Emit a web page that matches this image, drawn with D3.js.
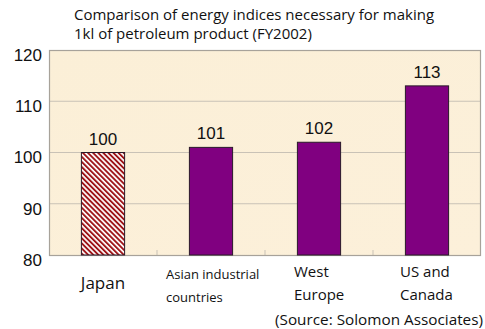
<!DOCTYPE html>
<html>
<head>
<meta charset="utf-8">
<script src="https://cdn.jsdelivr.net/npm/d3@7"></script>
<style>
  html, body { margin: 0; padding: 0; background: #ffffff; }
  svg { display: block; }
</style>
</head>
<body>
<svg id="chart" width="485" height="329"></svg>
<script>
// Energy index per 1kl of petroleum product, FY2002 (Japan = 100)
const categories = ["Japan", "Asian industrial countries", "West Europe", "US and Canada"];
const categoryLines = [["Japan"], ["Asian industrial", "countries"], ["West", "Europe"], ["US and", "Canada"]];
const values = [100, 101, 102, 113];
const yTicks = [80, 90, 100, 110, 120];
const titleLines = ["Comparison of energy indices necessary for making", "1kl of petroleum product (FY2002)"];
const sourceNote = "(Source: Solomon Associates)";

const svg = d3.select("#chart");
const plot = { left: 49, right: 481, top: 50, bottom: 255 };

const x = d3.scaleBand().domain(categories).range([plot.left, plot.right]).paddingInner(0.6).paddingOuter(0.3);
const xOuter = d3.scaleBand().domain(categories).range([plot.left, plot.right]);
const y = d3.scaleLinear().domain([80, 120]).range([plot.bottom, plot.top]);

// Hatched fill for the reference bar (stripes running top-left to bottom-right)
const defs = svg.append("defs");
const pat = defs.append("pattern")
  .attr("id", "hatch").attr("patternUnits", "userSpaceOnUse")
  .attr("width", 3.6).attr("height", 3.6)
  .attr("patternTransform", "rotate(-45)");
pat.append("rect").attr("width", 3.6).attr("height", 3.6).attr("fill", "#ffffff");
pat.append("rect").attr("x", 0).attr("width", 1.9).attr("height", 3.6).attr("fill", "#9e1418");

const bg = defs.append("linearGradient").attr("id", "paper").attr("x1", 0).attr("y1", 0).attr("x2", 1).attr("y2", 1);
bg.append("stop").attr("offset", "0%").attr("stop-color", "#fbefd7");
bg.append("stop").attr("offset", "100%").attr("stop-color", "#fcf0da");

// Plot background
svg.append("rect")
  .attr("x", plot.left).attr("y", plot.top)
  .attr("width", plot.right - plot.left).attr("height", plot.bottom - plot.top)
  .attr("fill", "url(#paper)");

// Horizontal gridlines
svg.append("g").selectAll("line").data(yTicks.slice(1, -1)).join("line")
  .attr("x1", plot.left).attr("x2", plot.right)
  .attr("y1", d => y(d)).attr("y2", d => y(d))
  .attr("stroke", "#c9c2b6").attr("stroke-width", 1);

// Small category separators along the base
svg.append("g").selectAll("line").data(categories.slice(1)).join("line")
  .attr("x1", d => xOuter(d)).attr("x2", d => xOuter(d))
  .attr("y1", plot.bottom).attr("y2", plot.bottom - 5)
  .attr("stroke", "#c9c2b6").attr("stroke-width", 1);

// Plot frame
svg.append("rect")
  .attr("x", plot.left + 0.5).attr("y", plot.top + 0.5)
  .attr("width", plot.right - plot.left - 1).attr("height", plot.bottom - plot.top)
  .attr("fill", "none").attr("stroke", "#a7a29a").attr("stroke-width", 1.2);

// Bars
svg.append("g").selectAll("rect").data(values).join("rect")
  .attr("x", (d, i) => x(categories[i]))
  .attr("y", d => y(d))
  .attr("width", x.bandwidth())
  .attr("height", d => y(80) - y(d))
  .attr("fill", (d, i) => i === 0 ? "url(#hatch)" : "#800080")
  .attr("stroke", "#2a1a2a").attr("stroke-width", 1);

// Value labels
svg.append("g").selectAll("text").data(values).join("text")
  .attr("x", (d, i) => x(categories[i]) + x.bandwidth() / 2)
  .attr("y", d => y(d) - 8)
  .attr("text-anchor", "middle")
  .attr("font-family", "Liberation Sans, Arial, sans-serif")
  .attr("font-size", 17).attr("fill", "#111")
  .text(d => d);

// Y axis labels
const yAxis = d3.axisLeft(y).tickValues(yTicks).tickSize(0).tickPadding(7);
const yg = svg.append("g").attr("transform", `translate(${plot.left},5)`).call(yAxis);
yg.select(".domain").remove();
yg.selectAll("text")
  .attr("font-family", "Liberation Sans, Arial, sans-serif")
  .attr("font-size", 17).attr("fill", "#111");

// Category labels
const catFont = "Open Sans, sans-serif";
const catStyle = [
  { size: 17, dx: 0, anchor: "middle", y0: 289 },
  { size: 13, dx: -45, anchor: "start", y0: 279 },
  { size: 15, dx: -25, anchor: "start", y0: 277 },
  { size: 15, dx: -27, anchor: "start", y0: 277 }
];
categoryLines.forEach((lines, i) => {
  const cx = xOuter(categories[i]) + xOuter.bandwidth() / 2;
  const s = catStyle[i];
  const t = svg.append("text")
    .attr("font-family", catFont).attr("font-size", s.size)
    .attr("fill", "#111").attr("text-anchor", s.anchor);
  lines.forEach((ln, k) => {
    t.append("tspan").attr("x", cx + s.dx).attr("y", s.y0 + k * 23).text(ln);
  });
});

// Title
svg.append("text")
  .attr("font-family", catFont).attr("font-size", 15).attr("fill", "#111")
  .selectAll("tspan").data(titleLines).join("tspan")
  .attr("x", 74).attr("y", (d, i) => 20 + i * 19).text(d => d);

// Source note
svg.append("text")
  .attr("x", 483).attr("y", 325).attr("text-anchor", "end")
  .attr("font-family", catFont).attr("font-size", 15.3).attr("fill", "#111")
  .text(sourceNote);
</script>
</body>
</html>
